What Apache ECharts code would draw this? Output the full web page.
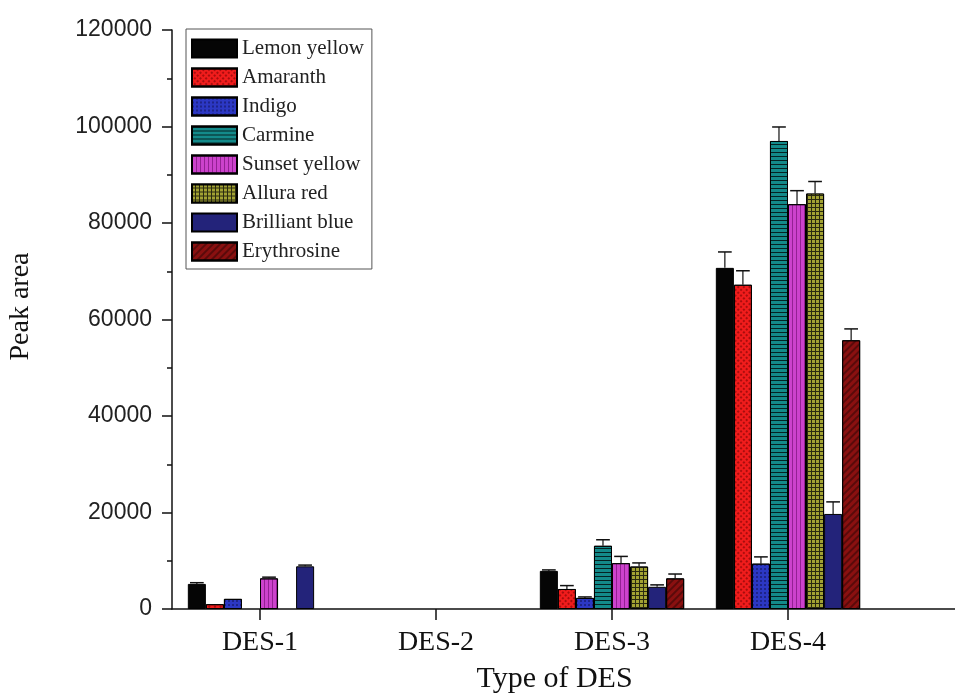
<!DOCTYPE html>
<html>
<head>
<meta charset="utf-8">
<script src="https://cdn.jsdelivr.net/npm/echarts@6/dist/echarts.min.js"></script>
<style>html,body{margin:0;padding:0;background:#fff}#c{width:955px;height:693px}</style>
</head>
<body>
<div id="c"></div>
<script>
const categories = ['DES-1', 'DES-2', 'DES-3', 'DES-4'];
const seriesNames = ['Lemon yellow', 'Amaranth', 'Indigo', 'Carmine', 'Sunset yellow', 'Allura red', 'Brilliant blue', 'Erythrosine'];
const yTicks = { min: 0, max: 120000, interval: 20000 };

const lemonYellow   = [5200, 0, 7900, 70700];
const amaranth      = [1000, 0, 4150, 67200];
const indigo        = [2100, 0, 2300, 9400];
const carmine       = [0, 0, 13100, 97000];
const sunsetYellow  = [6350, 0, 9500, 83900];
const alluraRed     = [0, 0, 8800, 86100];
const brilliantBlue = [8850, 0, 4600, 19700];
const erythrosine   = [0, 0, 6350, 55700];

const lemonYellowErr   = [250, 0, 200, 3300];
const amaranthErr      = [0, 0, 700, 2900];
const indigoErr        = [0, 0, 200, 1400];
const carmineErr       = [0, 0, 1250, 2900];
const sunsetYellowErr  = [250, 0, 1400, 2800];
const alluraRedErr     = [0, 0, 750, 2500];
const brilliantBlueErr = [250, 0, 400, 2500];
const erythrosineErr   = [0, 0, 900, 2350];

const values = [lemonYellow, amaranth, indigo, carmine, sunsetYellow, alluraRed, brilliantBlue, erythrosine];
const errors = [lemonYellowErr, amaranthErr, indigoErr, carmineErr, sunsetYellowErr, alluraRedErr, brilliantBlueErr, erythrosineErr];

const colors = ['#050505', '#f01c1c', '#2c38c4', '#138a8a', '#cc42cc', '#8f8f22', '#23237a', '#8a1010'];
const decals = [
  null,
  { symbol: 'rect', symbolSize: 1, dashArrayX: [2, 2], dashArrayY: [2, 2], rotation: Math.PI / 4, color: 'rgba(110,0,0,0.55)' },
  { symbol: 'rect', symbolSize: 1, dashArrayX: [2, 2], dashArrayY: [2, 2], color: 'rgba(20,20,90,0.55)' },
  { symbol: 'rect', symbolSize: 1, dashArrayX: [1, 0], dashArrayY: [1, 3], color: 'rgba(0,0,0,0.75)' },
  { symbol: 'rect', symbolSize: 1, dashArrayX: [1, 3], dashArrayY: [1, 0], color: 'rgba(90,0,90,0.5)' },
  { symbol: 'rect', symbolSize: 1, dashArrayX: [3, 1], dashArrayY: [3, 1], color: '#a2a233', backgroundColor: '#2a2a10' },
  null,
  { symbol: 'rect', symbolSize: 1, dashArrayX: [1, 0], dashArrayY: [2, 3], rotation: -Math.PI / 4, color: 'rgba(0,0,0,0.35)' }
];

const serif = "'Liberation Serif', 'Times New Roman', serif";
const sans = "'Liberation Sans', Arial, sans-serif";
const GAP = 0.18;
const N = seriesNames.length;

const series = [];
seriesNames.forEach((name, i) => {
  series.push({
    name: name,
    type: 'bar',
    xAxisIndex: 0, yAxisIndex: 0,
    barGap: '0%',
    barCategoryGap: (GAP * 100) + '%',
    data: values[i].map(v => (v === 0 ? '-' : v)),
    itemStyle: Object.assign({ color: colors[i], borderColor: '#000', borderWidth: 1 }, decals[i] ? { decal: decals[i] } : {}),
    z: 2
  });
});
seriesNames.forEach((name, i) => {
  series.push({
    type: 'custom',
    name: name + ' err',
    xAxisIndex: 0, yAxisIndex: 0,
    z: 5,
    silent: true,
    data: categories.map((c, k) => [k, values[i][k], errors[i][k]]),
    renderItem: function (params, api) {
      const k = api.value(0), v = api.value(1), e = api.value(2);
      if (!e) return null;
      const band = api.size([1, 0])[0];
      const group = band * (1 - GAP);
      const bw = group / N;
      const off = -group / 2 + (i + 0.5) * bw;
      const p0 = api.coord([k, v]);
      const p1 = api.coord([k, v + e]);
      const x = p0[0] + off;
      const cw = bw * 0.38;
      return {
        type: 'group',
        children: [
          { type: 'line', shape: { x1: x, y1: p0[1], x2: x, y2: p1[1] }, style: { stroke: '#111', lineWidth: 1.2 } },
          { type: 'line', shape: { x1: x - cw, y1: p1[1], x2: x + cw, y2: p1[1] }, style: { stroke: '#111', lineWidth: 1.5 } }
        ]
      };
    }
  });
});

const chart = echarts.init(document.getElementById('c'), null, { renderer: 'canvas' });
chart.setOption({
  animation: false,
  backgroundColor: '#fff',
  grid: [
    { left: 172, right: 79, top: 30, bottom: 84, outerBoundsMode: 'none', containLabel: false },
    { left: 172, right: 0, top: 30, bottom: 84, outerBoundsMode: 'none', containLabel: false }
  ],
  legend: {
    data: seriesNames,
    orient: 'vertical',
    left: 186, top: 29,
    padding: [9, 8, 7, 5],
    itemWidth: 45, itemHeight: 18, itemGap: 8,
    icon: 'rect',
    borderColor: '#555', borderWidth: 1,
    textStyle: { fontFamily: serif, fontSize: 21, color: '#222', lineHeight: 18 }
  },
  xAxis: [
    {
      type: 'category', gridIndex: 0, data: categories,
      axisLine: { show: false },
      axisTick: { show: true, alignWithLabel: true, inside: false, length: 11, lineStyle: { color: '#111', width: 1.5 } },
      axisLabel: { margin: 20, fontFamily: serif, fontSize: 28, color: '#111' }
    },
    {
      type: 'value', gridIndex: 1, min: 0, max: 1, position: 'bottom',
      axisLine: { show: true, onZero: false, lineStyle: { color: '#111', width: 1.5 } },
      axisTick: { show: false }, axisLabel: { show: false }, splitLine: { show: false },
      name: 'Type of DES', nameLocation: 'middle', nameGap: 55,
      nameTextStyle: { fontFamily: serif, fontSize: 30, color: '#111', padding: [0, 18, 0, 0] }
    }
  ],
  yAxis: [
    {
      type: 'value', gridIndex: 0, min: yTicks.min, max: yTicks.max, interval: yTicks.interval,
      axisLine: { show: true, lineStyle: { color: '#111', width: 1.5 } },
      axisTick: { show: true, inside: false, length: 10, lineStyle: { color: '#111', width: 1.5 } },
      minorTick: { show: true, splitNumber: 2, length: 5, lineStyle: { color: '#111', width: 1.5 } },
      splitLine: { show: false },
      axisLabel: { margin: 20, fontFamily: sans, fontSize: 23, color: '#222', formatter: v => String(v) },
      name: 'Peak area', nameLocation: 'middle', nameGap: 137,
      nameTextStyle: { fontFamily: serif, fontSize: 28, color: '#111', padding: [0, 0, 0, 26] }
    },
    {
      type: 'value', gridIndex: 1, min: 0, max: 1, show: false
    }
  ],
  series: series
});
</script>
</body>
</html>
